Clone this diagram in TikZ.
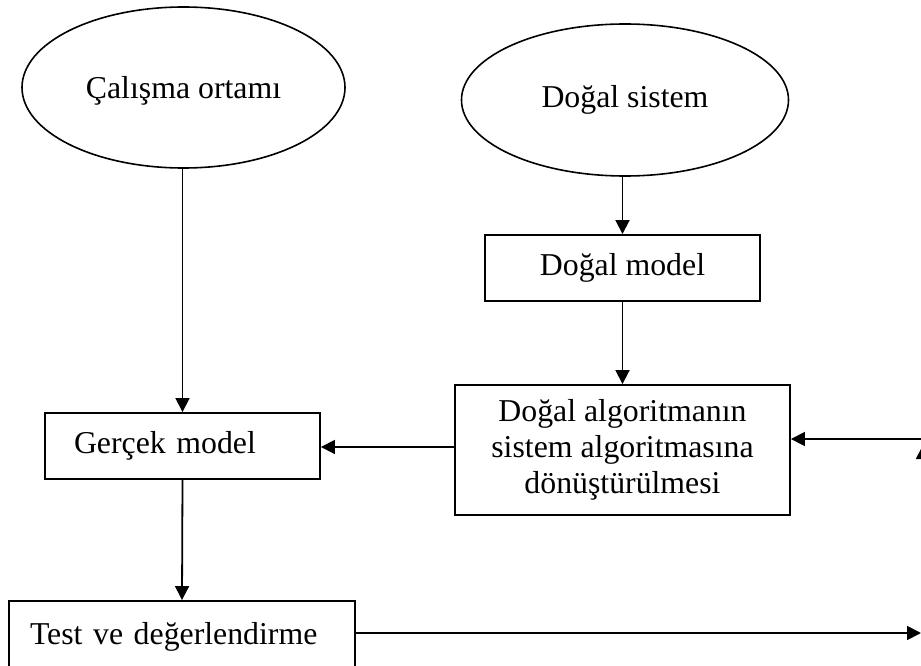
\documentclass[tikz,border=0pt]{standalone}
\usepackage{fontspec}
\setmainfont{Liberation Serif}
\usetikzlibrary{shapes.geometric,arrows.meta}

\tikzset{
  every node/.style={font=\fontsize{31.8}{36}\selectfont},
  oval/.style={draw, ellipse, line width=1.6pt, inner sep=0pt},
  box/.style={draw, rectangle, line width=1.9pt, inner sep=0pt},
  link/.style={line width=1.8pt, -{Triangle[length=14pt,width=14pt]}}
}

\begin{document}
\begin{tikzpicture}[x=1pt,y=-1pt]
  \useasboundingbox (0,0) rectangle (921,666);

  % sources
  \node[oval, minimum width=323pt, minimum height=161pt, text depth=0pt] (work) at (183.5,87.5) {Çalışma ortamı};
  \node[oval, minimum width=327pt, minimum height=152pt] (nat) at (625,100) {Doğal sistem};

  % process boxes
  \node[box, minimum width=275pt, minimum height=66pt] (natmodel) at (622.5,268) {Doğal model};
  \node[box, minimum width=335pt, minimum height=130pt, align=center] (conv) at (622.5,450)
    {Doğal algoritmanın\\sistem algoritmasına\\dönüştürülmesi};
  \node[box, minimum height=66pt, text width=217pt, inner xsep=29pt, align=left] (real) at (182.5,446) {Gerçek model};
  \node[box, minimum height=72pt, text width=304pt, inner xsep=21pt, align=left] (test) at (182,637) {Test ve değerlendirme};

  % free ends at the right border
  \coordinate (rin) at (921,439);
  \coordinate (rout) at (921,633);

  % connectors
  \draw[link] (work.south -| real.north) -- (real.north);
  \draw[link] (natmodel.north |- nat.south) -- (natmodel.north);
  \draw[link] (natmodel.south) -- (conv.north);
  \draw[link] (conv.west |- 0,447) -- (real.east |- 0,447);
  \draw[link] (rin) -- (rin -| conv.east);
  \draw[link] (real.south) -- (test.north);
  \draw[link] (test.east |- rout) -- (rout);

  % upward arrow running along the right border
  \coordinate (upend) at (923,445);
  \draw[link] (923,560) -- (upend);
\end{tikzpicture}
\end{document}
